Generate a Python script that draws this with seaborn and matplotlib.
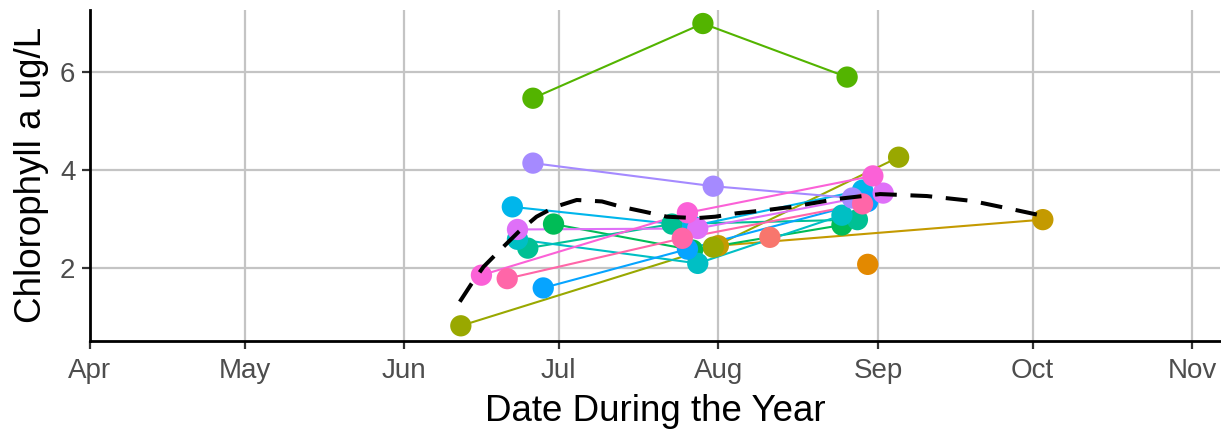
import numpy as np
import pandas as pd
import matplotlib
matplotlib.use("Agg")
import matplotlib.pyplot as plt
import matplotlib.dates as mdates
import seaborn as sns

# ---- data ----
sites = ["S01", "S02", "S03", "S04", "S05", "S06", "S07",
         "S08", "S09", "S10", "S11", "S12", "S13", "S14"]
site_colors = ["#F8766D", "#E38900", "#C49A00", "#99A800", "#53B400", "#00BC56", "#00C094",
               "#00BFC4", "#00B6EB", "#06A4FF", "#A58AFF", "#DF70F8", "#FB61D7", "#FF66A8"]

obs_site = ["S01",
            "S02",
            "S03", "S03",
            "S04", "S04", "S04",
            "S05", "S05", "S05",
            "S06", "S06", "S06",
            "S07", "S07", "S07",
            "S08", "S08", "S08",
            "S09", "S09", "S09",
            "S10", "S10", "S10",
            "S11", "S11", "S11",
            "S12", "S12", "S12",
            "S13", "S13", "S13",
            "S14", "S14", "S14"]
obs_date = ["2021-08-11",
            "2021-08-30",
            "2021-08-01", "2021-10-03",
            "2021-06-12", "2021-07-31", "2021-09-05",
            "2021-06-26", "2021-07-29", "2021-08-26",
            "2021-06-30", "2021-07-27", "2021-08-25",
            "2021-06-25", "2021-07-23", "2021-08-28",
            "2021-06-23", "2021-07-28", "2021-08-25",
            "2021-06-22", "2021-07-27", "2021-08-29",
            "2021-06-28", "2021-07-26", "2021-08-30",
            "2021-06-26", "2021-07-31", "2021-08-27",
            "2021-06-23", "2021-07-28", "2021-09-02",
            "2021-06-16", "2021-07-26", "2021-08-31",
            "2021-06-21", "2021-07-25", "2021-08-29"]
obs_chla = [2.63,
            2.08,
            2.46, 2.99,
            0.83, 2.43, 4.26,
            5.46, 6.98, 5.89,
            2.90, 2.37, 2.88,
            2.41, 2.90, 2.99,
            2.59, 2.10, 3.08,
            3.25, 2.86, 3.59,
            1.60, 2.39, 3.36,
            4.14, 3.67, 3.43,
            2.79, 2.81, 3.53,
            1.86, 3.13, 3.88,
            1.79, 2.61, 3.31]

# smoothed trend (dashed): day of year and value
smooth_doy = [162.8, 165.1, 167.4, 171.0, 174.2, 177.7, 181.3, 185.5, 190.4, 194.2,
              198.7, 203.0, 208.7, 212.4, 216.6, 222.0, 227.3, 236.0, 244.4, 253.5,
              262.3, 271.0, 275.9]
smooth_chla = [1.32, 1.69, 2.03, 2.41, 2.74, 3.05, 3.25, 3.39, 3.36, 3.25,
               3.15, 3.05, 3.02, 3.05, 3.12, 3.18, 3.25, 3.41, 3.51, 3.47,
               3.37, 3.18, 3.07]

# ---- build frames ----
df = pd.DataFrame({"site": obs_site, "date": pd.to_datetime(obs_date), "chla": obs_chla})
base = pd.Timestamp("2021-01-01")
sm = pd.DataFrame({"date": base + pd.to_timedelta(np.array(smooth_doy) - 1, unit="D"),
                   "chla": smooth_chla})
palette = dict(zip(sites, site_colors))

sns.set_theme(style="white")
plt.rcParams["font.family"] = ["Liberation Sans", "DejaVu Sans"]

fig = plt.figure(figsize=(12.21, 4.30), dpi=100)
ax = fig.add_axes([90 / 1221, (430 - 340.7) / 430, 1130 / 1221, 330.7 / 430])

ax.grid(True, color="#C4C4C4", linewidth=1.6, zorder=0)
ax.set_axisbelow(True)

sns.lineplot(data=df, x="date", y="chla", hue="site", hue_order=sites, palette=palette,
             estimator=None, sort=True, linewidth=1.5, legend=False, ax=ax, zorder=2)
sns.scatterplot(data=df, x="date", y="chla", hue="site", hue_order=sites, palette=palette,
                s=235, linewidth=0, legend=False, ax=ax, zorder=3)
sns.lineplot(data=sm, x="date", y="chla", color="black", linewidth=2.9,
             estimator=None, sort=False, ax=ax, zorder=4)
ax.lines[-1].set_linestyle((0, (5.4, 3.4)))

# ---- axes ----
ax.set_xlim(pd.Timestamp("2021-04-01"), pd.Timestamp("2021-04-01") + pd.Timedelta(days=219.4))
ax.set_ylim(0.527, 7.255)
ax.xaxis.set_major_locator(mdates.MonthLocator())
ax.xaxis.set_major_formatter(mdates.DateFormatter("%b"))
ax.set_yticks([2, 4, 6])

for s in ["top", "right"]:
    ax.spines[s].set_visible(False)
for s in ["left", "bottom"]:
    ax.spines[s].set_color("black")
    ax.spines[s].set_linewidth(2.0)

ax.tick_params(axis="both", which="major", length=5.5, width=1.6, color="#333333",
               labelcolor="#4D4D4D", labelsize=20, pad=5)
ax.tick_params(axis="x", pad=7)
ax.tick_params(left=True, bottom=True)

ax.set_xlabel("Date During the Year", fontsize=26.5, color="black")
ax.set_ylabel("Chlorophyll a ug/L", fontsize=26.5, color="black")
ax.xaxis.set_label_coords(0.5, -0.16)
ax.yaxis.set_label_coords(-0.036, 0.5)

fig.savefig("out.png", dpi=100)
